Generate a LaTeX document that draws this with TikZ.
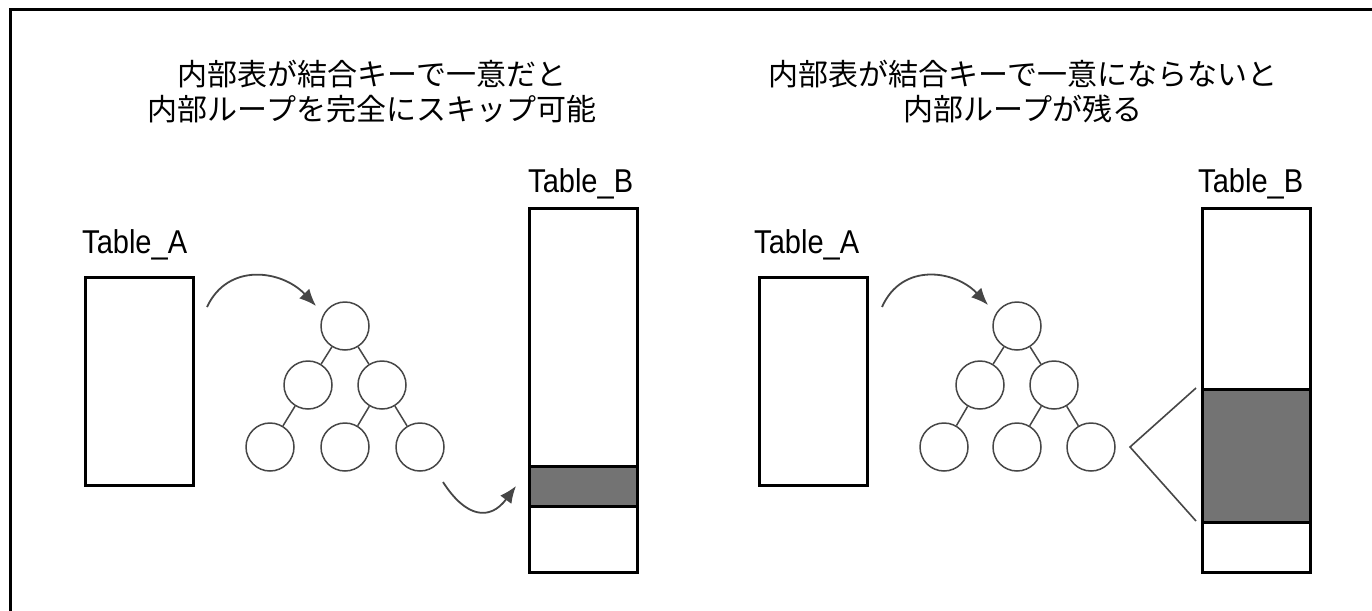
\documentclass[tikz,border=0pt]{standalone}
\usepackage{fontspec}
\newfontfamily\jp{Noto Sans CJK JP}
\newfontfamily\lab[FakeStretch=0.88]{Liberation Sans}
\usetikzlibrary{arrows.meta}
\definecolor{bandgray}{RGB}{115,115,115}
\definecolor{linegray}{RGB}{70,70,70}
\begin{document}
\begin{tikzpicture}[x=1pt,y=-1pt,
  frameline/.style={line width=3pt},
  tbl/.style={draw, line width=3pt, fill=white, rectangle, inner sep=0pt, anchor=north west},
  band/.style={draw, line width=3pt, fill=bandgray, rectangle, inner sep=0pt, anchor=north west},
  nd/.style={circle, draw=linegray, line width=1.5pt, minimum size=48pt, inner sep=0pt},
  treeedge/.style={draw=linegray, line width=1.5pt},
  flow/.style={draw=linegray, line width=1.8pt, -{Latex[length=17pt,width=14pt]}},
  wedge/.style={draw=linegray, line width=1.6pt},
  title/.style={font=\jp\fontsize{30}{35}\selectfont, align=center, inner sep=0pt},
  tlabel/.style={font=\lab\fontsize{33}{36}\selectfont, anchor=base west, inner sep=0pt}
]
\path[use as bounding box, fill=white] (0,0) rectangle (1372,610);
\draw[frameline] (10,612) -- (10,10) -- (1374,10);

% ---------- left panel ----------
\node[title] (titleL) at (372,92) {内部表が結合キーで一意だと\\内部ループを完全にスキップ可能};
\node[tlabel] (labAL) at (82,253) {Table\_A};
\node[tlabel] (labBL) at (528,192) {Table\_B};
\node[tbl, minimum width=108pt, minimum height=208pt] (tAL) at (84,276) {};
\node[tbl, minimum width=108pt, minimum height=364pt] (tBL) at (528,207) {};
\node[band, minimum width=108pt, minimum height=40pt] (bandL) at (528,465) {};

\node[nd] (n1L) at (345,326) {};
\node[nd] (n2L) at (308,385) {};
\node[nd] (n3L) at (382,385) {};
\node[nd] (n4L) at (270,447) {};
\node[nd] (n5L) at (345,447) {};
\node[nd] (n6L) at (420,447) {};
\draw[treeedge] (n1L) -- (n2L);
\draw[treeedge] (n1L) -- (n3L);
\draw[treeedge] (n2L) -- (n4L);
\draw[treeedge] (n3L) -- (n5L);
\draw[treeedge] (n3L) -- (n6L);

\coordinate (a1sL) at (207,307);
\coordinate (a1eL) at (316,306);
\draw[flow] (a1sL) .. controls (228,262) and (282,270) .. (a1eL);
\coordinate (a2sL) at (443,482);
\coordinate (a2eL) at (516,486);
\draw[flow] (a2sL) .. controls (466,518) and (490,521) .. (a2eL);

% ---------- right panel ----------
\node[title] (titleR) at (1023,92) {内部表が結合キーで一意にならないと\\内部ループが残る};
\node[tlabel] (labAR) at (754,253) {Table\_A};
\node[tlabel] (labBR) at (1198,192) {Table\_B};
\node[tbl, minimum width=108pt, minimum height=208pt] (tAR) at (758,276) {};
\node[tbl, minimum width=108pt, minimum height=364pt] (tBR) at (1201,207) {};
\node[band, minimum width=108pt, minimum height=133pt] (bandR) at (1201,388) {};

\node[nd] (n1R) at (1017,326) {};
\node[nd] (n2R) at (980,385) {};
\node[nd] (n3R) at (1054,385) {};
\node[nd] (n4R) at (944,447) {};
\node[nd] (n5R) at (1017,447) {};
\node[nd] (n6R) at (1091,447) {};
\draw[treeedge] (n1R) -- (n2R);
\draw[treeedge] (n1R) -- (n3R);
\draw[treeedge] (n2R) -- (n4R);
\draw[treeedge] (n3R) -- (n5R);
\draw[treeedge] (n3R) -- (n6R);

\coordinate (a1sR) at (882,307);
\coordinate (a1eR) at (988,305);
\draw[flow] (a1sR) .. controls (902,262) and (955,270) .. (a1eR);
\coordinate (apexR) at (1130,447);
\coordinate (w1R) at (1196,388);
\coordinate (w2R) at (1196,521);
\draw[wedge] (w1R) -- (apexR) -- (w2R);
\end{tikzpicture}
\end{document}
